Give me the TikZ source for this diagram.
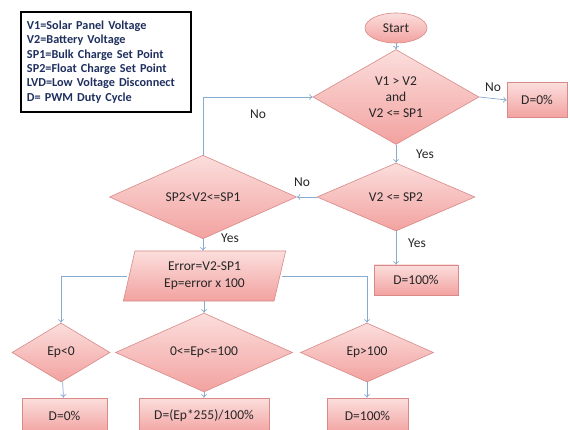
\documentclass[tikz,border=0pt]{standalone}
\usepackage{fontspec}
\setmainfont{Carlito}
\usetikzlibrary{shapes.geometric,arrows.meta}
\definecolor{pinkTop}{HTML}{FBDEDC}
\definecolor{pinkBot}{HTML}{F2A2A0}
\definecolor{pinkLine}{HTML}{D88A88}
\definecolor{lineBlue}{HTML}{86AAD0}
\definecolor{legendText}{HTML}{1F3060}
\tikzset{
  base/.style={draw=pinkLine, line width=0.6pt, top color=pinkTop, bottom color=pinkBot,
    font=\fontsize{13.5}{16}\selectfont, text=black!85, align=center, inner sep=0pt},
  dec/.style={base, diamond},
  boxnode/.style={base, rectangle},
  termnode/.style={base, ellipse},
  ionode/.style={base, trapezium, trapezium stretches=true,
    trapezium left angle=76.5, trapezium right angle=103.5},
  flow/.style={draw=lineBlue, line width=0.7pt, -{To[length=3.5pt,width=6pt]}},
  lbl/.style={font=\fontsize{13.5}{15}\selectfont, text=black!85, inner sep=0pt}
}
\begin{document}
\begin{tikzpicture}[x=1pt,y=-1pt]
\useasboundingbox (0,0) rectangle (570,430);
\fill[white] (0,0) rectangle (570,430);
\begin{scope}
\clip (0,0) rectangle (570,430);
% legend
\node[draw=black, line width=1.6pt, minimum width=170pt, minimum height=100pt,
  text width=158pt, align=left, inner sep=0pt, text=legendText,
  font=\bfseries\fontsize{12.2}{14.4}\selectfont] (legend) at (106,62)
  {V1=Solar Panel Voltage\\V2=Battery Voltage\\SP1=Bulk Charge Set Point\\SP2=Float Charge Set Point\\LVD=Low Voltage Disconnect\\D= PWM Duty Cycle};
% nodes
\node[termnode, minimum width=62pt, minimum height=30pt] (start) at (396,28) {Start};
\node[dec, minimum width=166pt, minimum height=89pt] (d1) at (396,97) {V1 > V2\\and\\V2 <= SP1};
\node[boxnode, minimum width=60pt, minimum height=35pt] (dz) at (537,100) {D=0\%};
\node[dec, minimum width=158pt, minimum height=68pt] (d2) at (396,197) {V2 <= SP2};
\node[boxnode, minimum width=84pt, minimum height=30pt] (full) at (416,280) {D=100\%};
\node[dec, minimum width=187pt, minimum height=59pt] (d3) at (203,197) {SP2<V2<=SP1};
\node[ionode, minimum width=163pt, minimum height=50pt, font=\fontsize{13.5}{17}\selectfont] (para) at (204.5,276) {Error=V2-SP1\\Ep=error x 100};
\node[dec, minimum width=98pt, minimum height=59pt] (e1) at (61,352.5) {Ep<0};
\node[dec, minimum width=177pt, minimum height=59pt] (e2) at (204,352.5) {0<=Ep<=100};
\node[dec, minimum width=133pt, minimum height=59pt] (e3) at (367,352.5) {Ep>100};
\node[boxnode, minimum width=85pt, minimum height=36pt] (b1) at (64.5,416) {D=0\%};
\node[boxnode, minimum width=130pt, minimum height=36pt] (b2) at (204,416) {D=(Ep*255)/100\%};
\node[boxnode, minimum width=81pt, minimum height=36pt] (b3) at (367.5,416) {D=100\%};
% connectors
\draw[flow] (start) -- (d1);
\draw[flow] (d1.east) -- (dz.west);
\draw[flow] (d1.south) -- (d2.north);
\draw[flow] (d2.west) -- (d3.east);
\draw[flow] (d2.south) -- (d2.south |- full.north);
\draw[flow] (d3.north) |- (d1.west);
\draw[flow] (d3.south) -- (para.north -| d3.south);
\coordinate (pl) at ([xshift=-2pt]para.west);
\coordinate (pr) at ([xshift=2pt]para.east);
\draw[flow] (pl) -| (e1.north);
\draw[flow] (pr) -| (e3.north);
\draw[flow] (para.south -| e2.north) -- (e2.north);
\draw[flow] (e1) -- (b1);
\draw[flow] (e2) -- (b2);
\draw[flow] (e3.south) -- (e3.south |- b3.north);
% labels
\node[lbl] (lno1) at (493,87) {No};
\node[lbl] (lyes1) at (425,154) {Yes};
\node[lbl] (lno2) at (302,182) {No};
\node[lbl] (lyes2) at (417,243) {Yes};
\node[lbl] (lno3) at (258,114) {No};
\node[lbl] (lyes3) at (230,238) {Yes};
\end{scope}
\end{tikzpicture}
\end{document}
